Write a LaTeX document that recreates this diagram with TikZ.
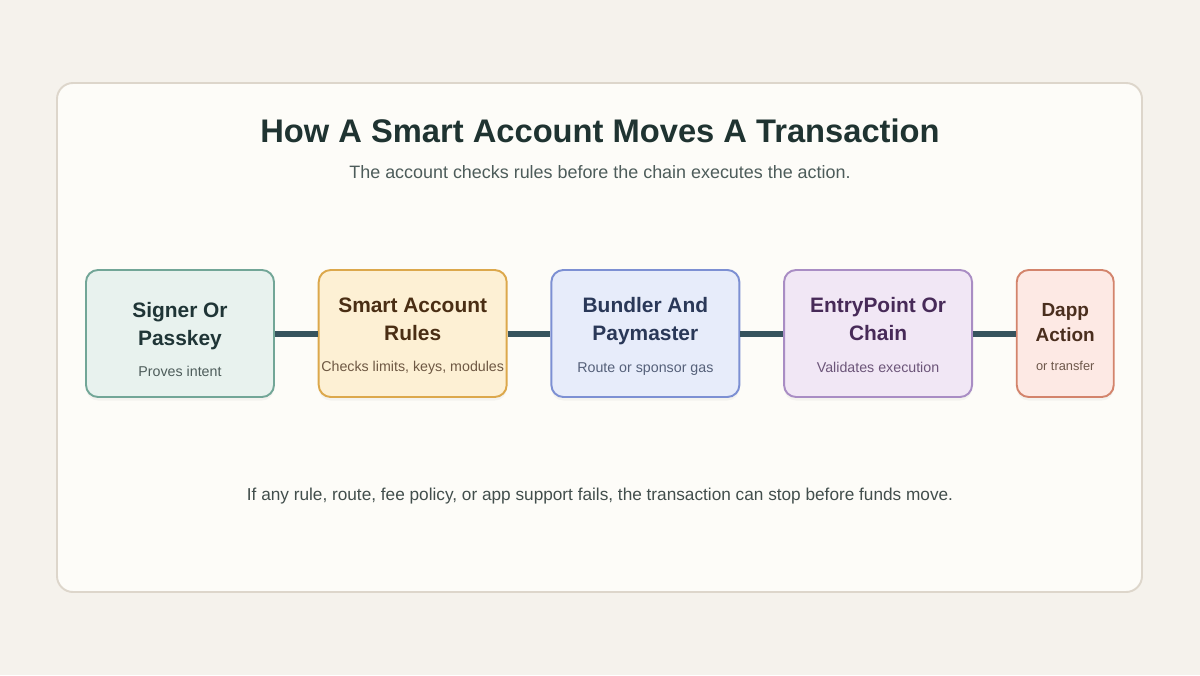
\documentclass[tikz,border=0pt]{standalone}
\usepackage{fontspec}
\setmainfont{Liberation Sans}
\usetikzlibrary{positioning,shadows}

\definecolor{pagebg}{HTML}{F5F2EC}
\definecolor{panelbg}{HTML}{FDFCF8}
\definecolor{panelline}{HTML}{DDD6CB}
\definecolor{titlecol}{HTML}{1F3331}
\definecolor{subcol}{HTML}{4D5C5A}
\definecolor{linkcol}{HTML}{36535D}
\definecolor{signfill}{HTML}{E8F2EE}
\definecolor{signline}{HTML}{72A697}
\definecolor{signtext}{HTML}{1F3536}
\definecolor{rulefill}{HTML}{FDF0D4}
\definecolor{ruleline}{HTML}{DCA84C}
\definecolor{ruletext}{HTML}{4A2E14}
\definecolor{bundfill}{HTML}{E7ECFA}
\definecolor{bundline}{HTML}{7D90D3}
\definecolor{bundtext}{HTML}{2A3858}
\definecolor{entryfill}{HTML}{F1E7F5}
\definecolor{entryline}{HTML}{A98DC4}
\definecolor{entrytext}{HTML}{472A58}
\definecolor{dappfill}{HTML}{FDE9E4}
\definecolor{dappline}{HTML}{D3846C}
\definecolor{dapptext}{HTML}{4A2E1E}

\newcommand{\stagetext}[5]{\parbox{#1}{\vspace*{#2}\centering\fontsize{11.9}{15.9}\selectfont\bfseries #3\\[8pt]
    \fontsize{8.1}{10}\selectfont\mdseries\color{#4} #5}}

\begin{document}
\begin{tikzpicture}
        [
            node distance = 0.855cm,
            stage/.style = {
                draw, rectangle, rounded corners=0.24cm, line width=1.1pt,
                minimum width=3.76cm, minimum height=2.54cm,
                align=center, inner sep=0pt,
                drop shadow={opacity=0.07, shadow xshift=0pt, shadow yshift=-2pt}},
            link/.style = {line width=0.12cm, draw=linkcol}
        ]
        \useasboundingbox (0,0) rectangle (24,13.5);
        \fill [pagebg] (0,0) rectangle (24,13.5);
        \draw [fill=panelbg, draw=panelline, line width=1.1pt, rounded corners=0.32cm]
            (1.14,1.66) rectangle (22.84,11.84);
        \node [text=titlecol, font=\fontsize{18.6}{22}\selectfont\bfseries] (title) at (12,10.88)
            {How A Smart Account Moves A Transaction};
        \node [text=subcol, font=\fontsize{10.2}{12}\selectfont] (subtitle) at (12,10.06)
            {The account checks rules before the chain executes the action.};
        % the five stages
        \node [stage, fill=signfill, draw=signline, text=signtext] (signer) at (3.6,6.83)
            {\stagetext{3.7cm}{7pt}{Signer Or\\Passkey}{subcol}{Proves intent}};
        \node [stage, fill=rulefill, draw=ruleline, text=ruletext] (rules) [right=of signer]
            {\stagetext{3.7cm}{3pt}{Smart Account\\Rules}{ruletext!80!white}{Checks limits, keys, modules}};
        \node [stage, fill=bundfill, draw=bundline, text=bundtext] (bundler) [right=of rules]
            {\stagetext{3.7cm}{3pt}{Bundler And\\Paymaster}{bundtext!80!white}{Route or sponsor gas}};
        \node [stage, fill=entryfill, draw=entryline, text=entrytext] (entry) [right=of bundler]
            {\stagetext{3.7cm}{2pt}{EntryPoint Or\\Chain}{entrytext!80!white}{Validates execution}};
        \node [stage, fill=dappfill, draw=dappline, text=dapptext, minimum width=1.94cm] (dapp) [right=of entry]
            {\parbox{1.9cm}{\vspace*{4pt}\centering\fontsize{10.8}{14.2}\selectfont\bfseries Dapp\\Action\\[8pt]
             \fontsize{7.3}{9}\selectfont\mdseries\color{dapptext!80!white} or transfer}};
        \draw [link] (signer) -- (rules);
        \draw [link] (rules) -- (bundler);
        \draw [link] (bundler) -- (entry);
        \draw [link] (entry) -- (dapp);
        \node [text=subcol!85!black, font=\fontsize{9.8}{12}\selectfont] (footer) at (12,3.58)
            {If any rule, route, fee policy, or app support fails, the transaction can stop before funds move.};
    \end{tikzpicture}
\end{document}
